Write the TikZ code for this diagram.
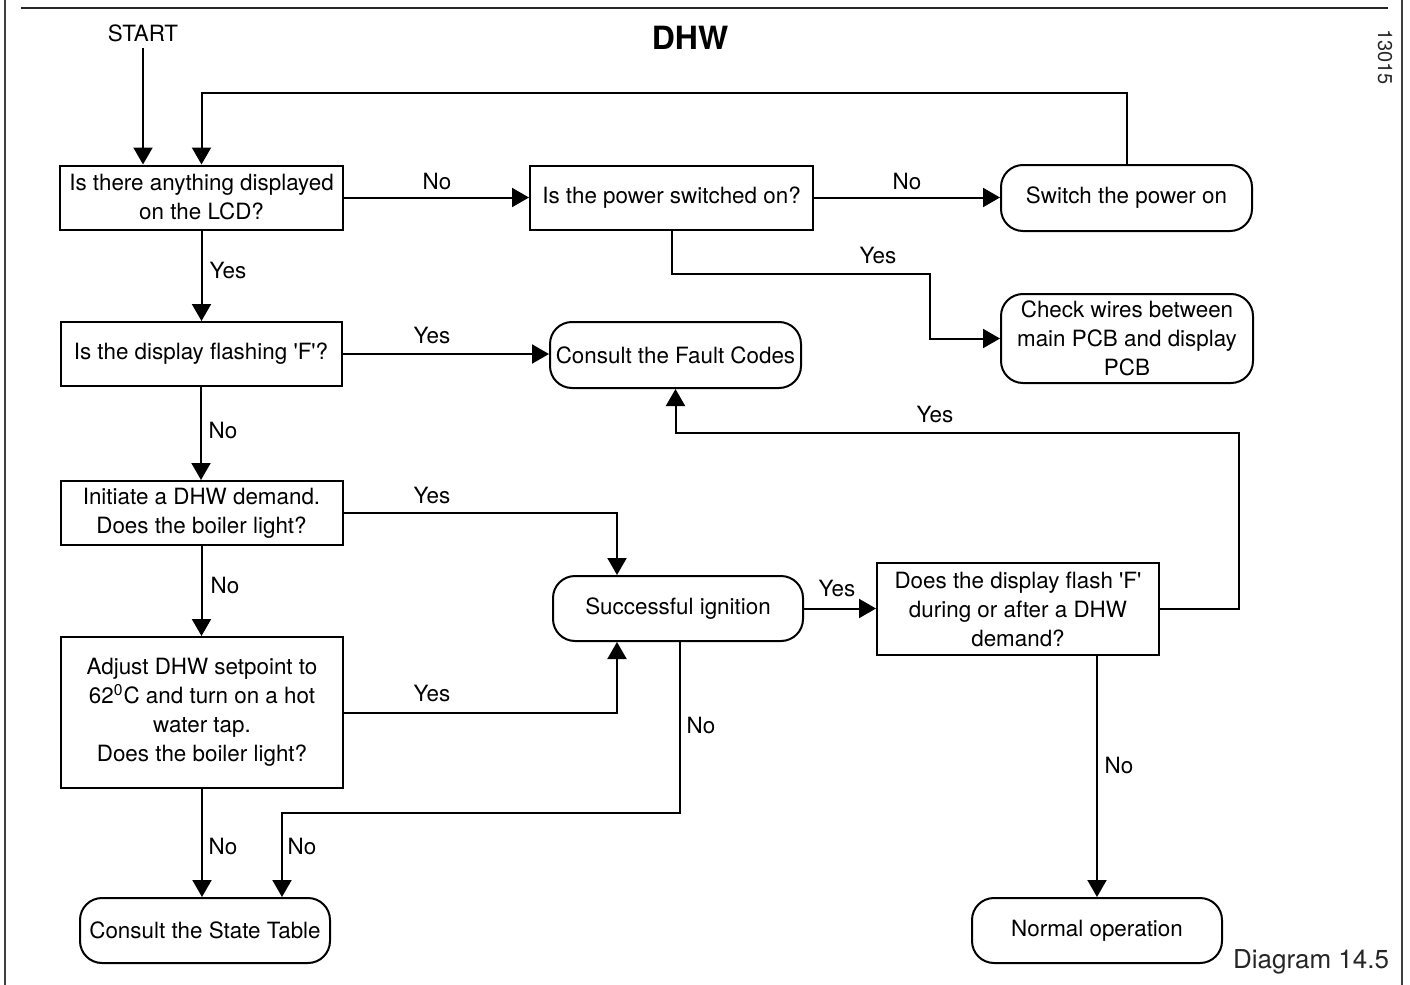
\documentclass[tikz,border=0pt]{standalone}
\usepackage{fontspec}
\setmainfont{TeX Gyre Heros}
\usetikzlibrary{arrows.meta}
\newcommand{\sq}{\textquotesingle}
\begin{document}
\begin{tikzpicture}[x=0.5pt,y=-0.5pt,
  every node/.style={font=\fontsize{11.2}{14.5}\selectfont, inner sep=0pt},
  qbox/.style={draw, line width=1pt, align=center, minimum height=32pt},
  rbox/.style={draw, line width=1pt, align=center, rounded corners=11pt, minimum height=32.5pt},
  arr/.style={line width=1pt, -{Triangle[length=8.5pt,width=9.5pt]}},
  lbl/.style={font=\fontsize{11.2}{14.5}\selectfont}
]
\useasboundingbox (0,0) rectangle (1410,985);
% frame
\draw[line width=0.8pt, black!75] (5,0) -- (5,985);
\draw[line width=0.8pt, black!75] (1402,0) -- (1402,985);
\draw[line width=1.1pt, black!85] (21,8) -- (1388,8);
% titles
\node[font=\bfseries\fontsize{16}{18}\selectfont] (title) at (690,38) {DHW};
\node[font=\fontsize{10}{12}\selectfont, text=black!85, rotate=-90] (code) at (1385,57) {13015};
\node[font=\fontsize{13}{15}\selectfont, text=black!85] (diag) at (1311,962) {Diagram 14.5};
\node[lbl] (start) at (143,33) {START};
% nodes
\node[qbox, minimum width=141.5pt] (A) at (201.5,197.5) {Is there anything displayed\\on the LCD?};
\node[qbox, minimum width=141.5pt] (B) at (671.5,197.5) {Is the power switched on?};
\node[rbox, minimum width=125.5pt, minimum height=33pt] (C) at (1126.5,198) {Switch the power on};
\node[rbox, minimum width=126pt, minimum height=44.5pt] (D) at (1127,338.5) {Check wires between\\main PCB and display\\PCB};
\node[qbox, minimum width=140.5pt] (E) at (201,354) {Is the display flashing \sq F\sq?};
\node[rbox, minimum width=125.5pt, minimum height=33pt] (F) at (675.5,355) {Consult the Fault Codes};
\node[qbox, minimum width=141pt] (G) at (201.5,513) {Initiate a DHW demand.\\Does the boiler light?};
\node[rbox, minimum width=125pt] (H) at (678,608.5) {Successful ignition};
\node[qbox, minimum width=141pt, minimum height=46pt] (I) at (1018,609) {Does the display flash \sq F\sq\\during or after a DHW\\demand?};
\node[qbox, minimum width=141pt, minimum height=75.5pt] (J) at (202,712.5) {Adjust DHW setpoint to\\62\textsuperscript{0}C and turn on a hot\\water tap.\\Does the boiler light?};
\node[rbox, minimum width=125pt] (K) at (205,930.5) {Consult the State Table};
\node[rbox, minimum width=125pt] (L) at (1097,930.5) {Normal operation};
% helper coordinates
\coordinate (s0) at (143,48);
\coordinate (top) at (0,93);
\coordinate (bd) at (930,274);
\coordinate (hx) at (617,0);
\coordinate (hk) at (680,0);
\coordinate (hk1) at (680,813);
\coordinate (kx) at (282,0);
\coordinate (ir) at (1239,433);
% connectors
\draw[arr] (s0) -- (s0 |- A.north);
\draw[arr] (C.north) -- (C.north |- top) -| (A.north);
\draw[arr] (A.east) -- (B.west);
\draw[arr] (B.east) -- (B.east -| C.west);
\draw[arr] (B.south) |- (bd) |- (D.west);
\draw[arr] (A.south) -- (A.south |- E.north);
\draw[arr] (E.east) -- (E.east -| F.west);
\draw[arr] (E.south) -- (E.south |- G.north);
\draw[arr] (G.east) -| (hx |- H.north);
\draw[arr] (G.south) -- (G.south |- J.north);
\draw[arr] (J.east) -| (hx |- H.south);
\draw[arr] (H.east) -- (H.east -| I.west);
\draw[arr] (hk |- H.south) -- (hk1) -| (kx |- K.north);
\draw[arr] (J.south) -- (J.south |- K.north);
\draw[arr] (I.east) -| (ir) -| (F.south);
\draw[arr] (L.north |- I.south) -- (L.north);
% labels
\node[lbl] (l1) at (437,182) {No};
\node[lbl] (l2) at (907,182) {No};
\node[lbl] (l3) at (878,256) {Yes};
\node[lbl] (l4) at (228,271) {Yes};
\node[lbl] (l5) at (432,336) {Yes};
\node[lbl] (l6) at (223,431) {No};
\node[lbl] (l7) at (432,495) {Yes};
\node[lbl] (l8) at (225,585) {No};
\node[lbl] (l9) at (432,693) {Yes};
\node[lbl] (l10) at (837,588) {Yes};
\node[lbl] (l11) at (701,725) {No};
\node[lbl] (l12) at (302,846) {No};
\node[lbl] (l13) at (223,846) {No};
\node[lbl] (l14) at (935,414) {Yes};
\node[lbl] (l15) at (1119,765) {No};
\end{tikzpicture}
\end{document}
